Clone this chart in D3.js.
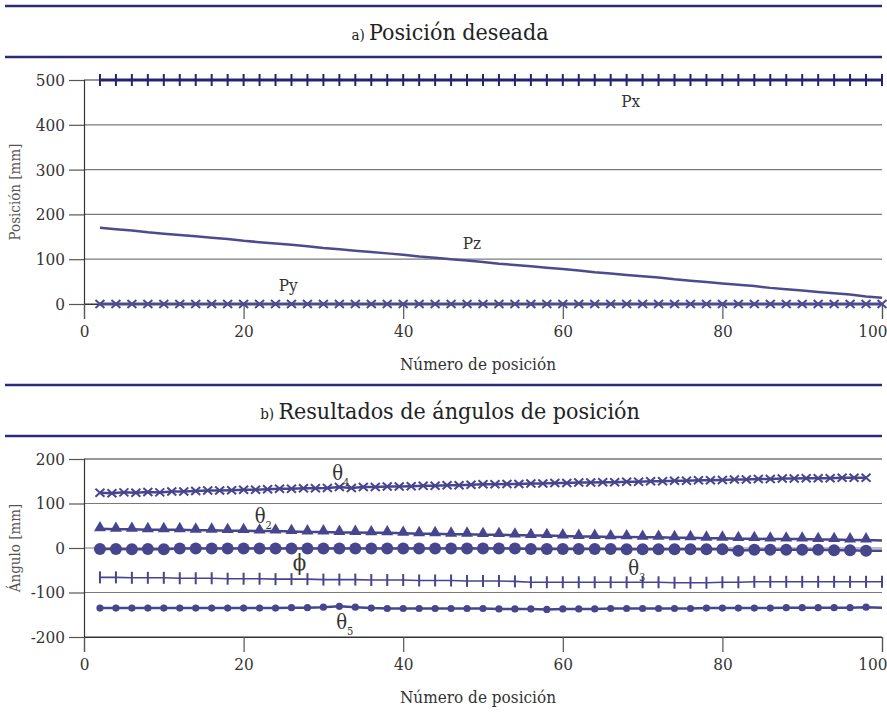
<!DOCTYPE html>
<html>
<head>
<meta charset="utf-8">
<script src="https://cdn.jsdelivr.net/npm/d3@7"></script>
<style>
  body { margin: 0; background: #fff; }
  svg text { font-stretch: condensed; }
</style>
</head>
<body>
<svg id="vis" width="887" height="713"></svg>
<script>
// positions (numero de posicion), every 2
const pos = [2, 4, 6, 8, 10, 12, 14, 16, 18, 20, 22, 24, 26, 28, 30, 32, 34, 36, 38, 40,
    42, 44, 46, 48, 50, 52, 54, 56, 58, 60, 62, 64, 66, 68, 70, 72, 74, 76, 78, 80,
    82, 84, 86, 88, 90, 92, 94, 96, 98, 100];

// panel a) posicion deseada [mm]
const px = [500, 500, 500, 500, 500, 500, 500, 500, 500, 500, 500, 500, 500, 500, 500, 500, 500, 500, 500, 500,
    500, 500, 500, 500, 500, 500, 500, 500, 500, 500, 500, 500, 500, 500, 500, 500, 500, 500, 500, 500,
    500, 500, 500, 500, 500, 500, 500, 500, 500, 500];
const py = [0, 0, 0, 0, 0, 0, 0, 0, 0, 0, 0, 0, 0, 0, 0, 0, 0, 0, 0, 0,
    0, 0, 0, 0, 0, 0, 0, 0, 0, 0, 0, 0, 0, 0, 0, 0, 0, 0, 0, 0,
    0, 0, 0, 0, 0, 0, 0, 0, 0, 0];
const pz = [170, 167, 164, 160, 157, 154, 151, 148, 145, 141, 138, 135, 132, 129, 125, 122, 119, 116, 113, 110,
    106, 103, 100, 97, 94, 90, 87, 84, 81, 78, 75, 71, 68, 65, 62, 59, 55, 52, 49, 46,
    43, 40, 36, 33, 30, 27, 24, 21, 17, 14];

// panel b) angulos
const pos4 = [2, 3.5, 5, 6.5, 8, 9.5, 11, 12.5, 14, 15.5, 17, 18.5, 20, 21.5, 23, 24.5, 26, 27.5, 29, 30.5,
    32, 33.5, 35, 36.5, 38, 39.5, 41, 42.5, 44, 45.5, 47, 48.5, 50, 51.5, 53, 54.5, 56, 57.5, 59, 60.5,
    62, 63.5, 65, 66.5, 68, 69.5, 71, 72.5, 74, 75.5, 77, 78.5, 80, 81.5, 83, 84.5, 86, 87.5, 89, 90.5,
    92, 93.5, 95, 96.5, 98];
const theta4 = [124, 123, 125, 124, 126, 125, 127, 127, 128, 129, 129, 130, 131, 131, 132, 133, 133, 134, 134, 135,
    137, 135, 137, 137, 138, 138, 139, 140, 140, 141, 141, 142, 143, 143, 144, 144, 145, 145, 146, 146,
    147, 147, 148, 148, 149, 149, 150, 150, 151, 151, 152, 152, 153, 154, 154, 155, 155, 156, 156, 157,
    157, 157, 158, 158, 158];
const theta2 = [43, 42, 42, 41, 41, 41, 40, 40, 39, 39, 38, 38, 37, 36, 36, 35, 35, 34, 34, 33,
    32, 32, 31, 31, 30, 30, 29, 28, 28, 27, 26, 26, 25, 25, 24, 24, 23, 23, 22, 22,
    21, 21, 20, 20, 20, 19, 19, 18, 18, 17];
const phi = [-2, -2, -3, -2, -3, -1, -1, -1, -1, -1, -1, -1, -1, -1, -1, -1, -1, -1, -1, -1,
    -1, -1, -1, -1, -1, -1, -1, -2, -2, -2, -2, -2, -2, -3, -3, -3, -3, -3, -3, -3,
    -6, -4, -4, -4, -4, -4, -5, -5, -6, -6];
const theta3 = [-66, -66, -67, -67, -67, -68, -68, -68, -69, -69, -69, -70, -70, -70, -71, -71, -71, -72, -72, -72,
    -73, -73, -73, -74, -74, -74, -75, -77, -77, -77, -77, -77, -77, -77, -77, -77, -78, -78, -78, -77,
    -77, -76, -76, -76, -76, -76, -76, -76, -76, -76];
const theta5 = [-135, -135, -135, -135, -135, -135, -135, -135, -135, -135, -135, -135, -134, -134, -133, -131, -133, -135, -136, -136,
    -136, -136, -136, -136, -136, -137, -137, -137, -138, -137, -137, -137, -136, -136, -136, -136, -136, -136, -135, -135,
    -135, -135, -135, -134, -134, -134, -134, -134, -133, -134];

const xTicks = [0, 20, 40, 60, 80, 100];
const yTicksA = [0, 100, 200, 300, 400, 500];
const yTicksB = [-200, -100, 0, 100, 200];

var svg = d3.select("svg#vis");
var serif = '"DejaVu Serif Condensed", "DejaVu Serif", serif';
var navy = "#2c2b7a";
var lineColor = "#46458e";

var x = d3.scaleLinear().domain([0, 100]).range([84, 882]);
var yA = d3.scaleLinear().domain([0, 500]).range([304, 80]);
var yB = d3.scaleLinear().domain([-200, 200]).range([637, 459]);

function translate(x, y) {
    return "translate(" + String(x) + "," + String(y) + ")";
}

// header rules + titles
function header(y1, y2, label, title) {
    [y1, y2].forEach(function(y) {
        svg.append("line")
            .attr("x1", 5).attr("x2", 882)
            .attr("y1", y).attr("y2", y)
            .attr("stroke", navy)
            .attr("stroke-width", 2.5);
    });
    let t = svg.append("text")
        .attr("x", 450)
        .attr("y", (y1 + y2) / 2 + 8)
        .attr("text-anchor", "middle")
        .attr("font-family", serif)
        .attr("fill", "#222");
    t.append("tspan").style("font-size", "15px").text(label + " ");
    t.append("tspan").style("font-size", "23px").text(title);
}
header(6, 57, "a)", "Posición deseada");
header(385, 436, "b)", "Resultados de ángulos de posición");

function drawAxes(y, ticks, yTitle, ytitleY) {
    // gridlines
    svg.append("g").selectAll("line")
        .data(ticks)
        .enter()
        .append("line")
        .attr("x1", x(0)).attr("x2", x(100))
        .attr("y1", d => y(d)).attr("y2", d => y(d))
        .attr("stroke", (d, i) => (i == 0 || i == ticks.length - 1) ? "#333" : "#7a7a7a")
        .attr("stroke-width", 1.2);

    let yAxis = d3.axisLeft(y).tickValues(ticks).tickSize(15).tickPadding(4)
        .tickFormat(d => String(d));
    let gy = svg.append("g").attr("transform", translate(x(0), 0)).call(yAxis);
    let xAxis = d3.axisBottom(x).tickValues(xTicks).tickSize(15).tickPadding(6)
        .tickFormat(d => String(d));
    let gx = svg.append("g").attr("transform", translate(0, y.range()[0])).call(xAxis);

    [gx, gy].forEach(function(g) {
        g.attr("font-family", serif).attr("font-size", 17);
        g.select(".domain").attr("stroke", "#333").attr("stroke-width", 1.2);
        g.selectAll(".tick line").attr("stroke", "#555").attr("stroke-width", 1.2);
        g.selectAll("text").attr("fill", "#333");
    });
    // keep the last label inside the picture
    gx.selectAll("text")
        .filter(d => d == 100)
        .attr("text-anchor", "end")
        .attr("dx", 5);

    svg.append("text")
        .attr("x", (x(0) + x(100)) / 2 - 5)
        .attr("y", y.range()[0] + 66)
        .attr("text-anchor", "middle")
        .attr("font-family", serif)
        .style("font-size", "17px")
        .attr("fill", "#333")
        .text("Número de posición");

    svg.append("text")
        .attr("transform", translate(20, ytitleY) + " rotate(-90)")
        .attr("text-anchor", "middle")
        .attr("font-family", serif)
        .style("font-size", "15px")
        .attr("fill", "#555")
        .text(yTitle);
}

drawAxes(yA, yTicksA, "Posición [mm]", 192);
drawAxes(yB, yTicksB, "Ángulo [mm]", 548);

function drawLine(xs, vals, y, color, width) {
    let line = d3.line()
        .x((d, i) => x(xs[i]))
        .y(d => y(d));
    svg.append("path")
        .datum(vals)
        .attr("d", line)
        .attr("fill", "none")
        .attr("stroke", color)
        .attr("stroke-width", width);
}

function drawMarkers(xs, vals, y, kind, color, n) {
    let data = vals.slice(0, n).map((v, i) => [xs[i], v]);
    let g = svg.append("g");
    data.forEach(function(d) {
        let cx = x(d[0]), cy = y(d[1]);
        if (kind == "plus") {
            g.append("line").attr("x1", cx).attr("x2", cx)
                .attr("y1", cy - 6).attr("y2", cy + 6)
                .attr("stroke", color).attr("stroke-width", 2);
        } else if (kind == "cross") {
            g.append("path")
                .attr("d", "M" + (cx - 4.5) + "," + (cy - 4) + "L" + (cx + 4.5) + "," + (cy + 4) +
                    "M" + (cx - 4.5) + "," + (cy + 4) + "L" + (cx + 4.5) + "," + (cy - 4))
                .attr("stroke", color).attr("stroke-width", 2).attr("fill", "none");
        } else if (kind == "triangle") {
            g.append("path")
                .attr("d", d3.symbol().type(d3.symbolTriangle).size(62)())
                .attr("transform", translate(cx, cy - 1))
                .attr("fill", color);
        } else if (kind == "bigdot") {
            g.append("circle").attr("cx", cx).attr("cy", cy).attr("r", 6).attr("fill", color);
        } else if (kind == "dot") {
            g.append("circle").attr("cx", cx).attr("cy", cy).attr("r", 3.6).attr("fill", color);
        }
    });
}

// panel a
drawLine(pos, px, yA, "#24236e", 3);
drawMarkers(pos, px, yA, "plus", "#24236e", 50);
drawLine(pos, py, yA, "#4c4b90", 3);
drawMarkers(pos, py, yA, "cross", "#4c4b90", 50);
drawLine(pos, pz, yA, "#4c4b90", 2.5);

// panel b
drawLine(pos4, theta4, yB, lineColor, 2.5);
drawMarkers(pos4, theta4, yB, "cross", lineColor, 65);
drawLine(pos, theta2, yB, lineColor, 2.5);
drawMarkers(pos, theta2, yB, "triangle", lineColor, 49);
drawLine(pos, phi, yB, lineColor, 2.5);
drawMarkers(pos, phi, yB, "bigdot", lineColor, 49);
drawLine(pos, theta3, yB, lineColor, 1.6);
drawMarkers(pos, theta3, yB, "plus", lineColor, 50);
drawLine(pos, theta5, yB, lineColor, 2.5);
drawMarkers(pos, theta5, yB, "dot", lineColor, 49);

// series labels
function label(xv, yv, y, main, sub, size, anchor) {
    let t = svg.append("text")
        .attr("x", x(xv)).attr("y", y(yv))
        .attr("text-anchor", anchor)
        .attr("font-family", serif)
        .attr("fill", "#333")
        .style("font-size", size + "px");
    t.append("tspan").text(main);
    if (sub) {
        t.append("tspan").attr("dy", 6).style("font-size", "11px").text(sub);
    }
}
label(68.5, 440, yA, "Px", null, 17, "middle");
label(48.6, 123, yA, "Pz", null, 17, "middle");
label(25.6, 29, yA, "Py", null, 17, "middle");
label(31.1, 152, yB, "θ", "4", 20, "start");
label(21.4, 56, yB, "θ", "2", 20, "start");
label(27, -49, yB, "ϕ", null, 22, "middle");
label(68.2, -61, yB, "θ", "3", 20, "start");
label(31.6, -181, yB, "θ", "5", 20, "start");
</script>
</body>
</html>
